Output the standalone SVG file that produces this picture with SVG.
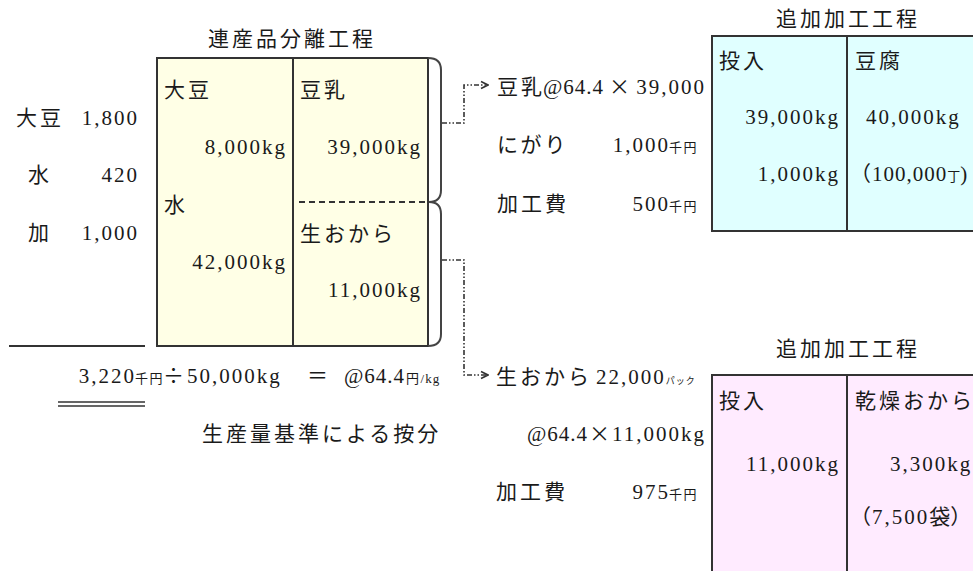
<svg xmlns="http://www.w3.org/2000/svg" width="973" height="571" viewBox="0 0 973 571">
<defs>
<style>
text { font-family: "Liberation Serif", "Noto Sans CJK JP", serif; font-size: 21px; letter-spacing: 2px; fill: #1a1a1a; }
.j { font-family: "Noto Sans CJK JP", sans-serif; letter-spacing: 3px; }
.s { font-family: "Noto Sans CJK JP", sans-serif; font-size: 13px; letter-spacing: 1.5px; }
.su { font-size: 13px; letter-spacing: 1px; }
.xs { font-family: "Noto Sans CJK JP", sans-serif; font-size: 9px; letter-spacing: 1px; }
.n1 { letter-spacing: 1px; }
.e { text-anchor: end; }
.box { stroke: #333; stroke-width: 2; }
.div { stroke: #333; stroke-width: 2; }
.conn { fill: none; stroke: #333; stroke-width: 1.6; stroke-dasharray: 5 2 1.5 2 1.5 2; }
.rule { stroke: #333; stroke-width: 2; }
</style>
<marker id="arr" viewBox="0 0 10 10" refX="9" refY="5" markerWidth="10" markerHeight="10" markerUnits="userSpaceOnUse" orient="auto">
<path d="M2,1.5 L9,5 L2,8.5" fill="none" stroke="#333" stroke-width="1.6" stroke-dasharray="none"/>
</marker>
</defs>
<rect width="973" height="571" fill="#ffffff"/>

<g id="inputs">
<text class="j" x="16" y="125">大豆</text><text class="e" x="139" y="125">1,800</text>
<text class="j" x="28" y="182">水</text><text class="e" x="139" y="182">420</text>
<text class="j" x="28" y="240">加</text><text class="e" x="139" y="240">1,000</text>
<line class="rule" x1="9" y1="346" x2="145" y2="346"/>
<line x1="58" y1="402" x2="145" y2="402" stroke="#333" stroke-width="1.5"/>
<line x1="58" y1="406" x2="145" y2="406" stroke="#333" stroke-width="1.5"/>
</g>

<g id="separation">
<text class="j" x="208" y="46">連産品分離工程</text>
<rect class="box" x="157" y="58" width="271" height="288" fill="#ffffe6"/>
<line class="div" x1="293" y1="58" x2="293" y2="346"/>
<line x1="299" y1="202" x2="428" y2="202" stroke="#333" stroke-width="2" stroke-dasharray="6 4"/>
<text class="j" x="164" y="97">大豆</text>
<text class="e" x="287" y="154">8,000kg</text>
<text class="j" x="300" y="97">豆乳</text>
<text class="e" x="422" y="154">39,000kg</text>
<text class="j" x="164" y="212">水</text>
<text class="e" x="287" y="269">42,000kg</text>
<text class="j" x="300" y="241">生おから</text>
<text class="e" x="422" y="297">11,000kg</text>
</g>

<g id="formula">
<text class="e" x="136" y="383">3,220</text>
<text class="s" x="135" y="383">千円</text>
<text class="j" x="163" y="383">÷</text>
<text x="187" y="383">50,000kg</text>
<text class="j" x="307" y="383">＝</text>
<text class="e n1" x="405" y="383">@64.4</text>
<text y="383"><tspan class="s" x="406">円</tspan><tspan class="su">/kg</tspan></text>
<text class="j" x="202" y="441">生産量基準による按分</text>
</g>

<g id="connectors">
<path d="M428,58 Q441,58 441,70 V190 Q441,202 429,202 Q441,202 441,214 V334 Q441,346 428,346" fill="none" stroke="#444" stroke-width="2"/>
<path class="conn" d="M442,123 H464 V85 H488" marker-end="url(#arr)"/>
<path class="conn" d="M442,260 H464 V375 H488" marker-end="url(#arr)"/>
</g>

<g id="soymilk-costs">
<text class="j" x="497" y="94">豆乳</text>
<text class="n1" x="543" y="94">@64.4</text>
<text class="j" x="609" y="94">×</text>
<text class="e" x="706" y="94">39,000</text>
<text class="j" x="497" y="152">にがり</text><text class="e" x="670" y="152">1,000</text><text class="s" x="669" y="152">千円</text>
<text class="j" x="497" y="211">加工費</text><text class="e" x="670" y="211">500</text><text class="s" x="669" y="211">千円</text>
</g>

<g id="tofu-process">
<text class="j" x="776" y="26">追加加工工程</text>
<rect class="box" x="712" y="36" width="290" height="195" fill="#e0ffff"/>
<line class="div" x1="847" y1="36" x2="847" y2="231"/>
<text class="j" x="719" y="68">投入</text>
<text class="e" x="840" y="124">39,000kg</text>
<text class="e" x="840" y="181">1,000kg</text>
<text class="j" x="855" y="68">豆腐</text>
<text x="866" y="124">40,000kg</text>
<text y="181"><tspan class="j" x="850" style="letter-spacing:0">（</tspan><tspan class="n1" x="872">100,000</tspan><tspan class="s" style="letter-spacing:0">丁</tspan><tspan style="letter-spacing:0">)</tspan></text>
</g>

<g id="okara-costs">
<text y="384"><tspan class="j" x="496">生おから</tspan><tspan x="596">22,000</tspan><tspan class="xs">パック</tspan></text>
<text class="e n1" x="588" y="441">@64.4</text>
<text class="j" x="589" y="441">×</text>
<text class="e" x="706" y="441">11,000kg</text>
<text class="j" x="496" y="499">加工費</text><text class="e" x="670" y="499">975</text><text class="s" x="669" y="499">千円</text>
</g>

<g id="okara-process">
<text class="j" x="776" y="356">追加加工工程</text>
<rect class="box" x="712" y="375" width="290" height="220" fill="#ffebff"/>
<line class="div" x1="847" y1="375" x2="847" y2="571"/>
<text class="j" x="719" y="408">投入</text>
<text class="e" x="840" y="471">11,000kg</text>
<text class="j" x="855" y="408">乾燥おから</text>
<text x="890" y="471">3,300kg</text>
<text y="524"><tspan class="j" x="850" style="letter-spacing:0">（</tspan><tspan x="872">7,500</tspan><tspan class="j" style="letter-spacing:0">袋）</tspan></text>
</g>
</svg>
